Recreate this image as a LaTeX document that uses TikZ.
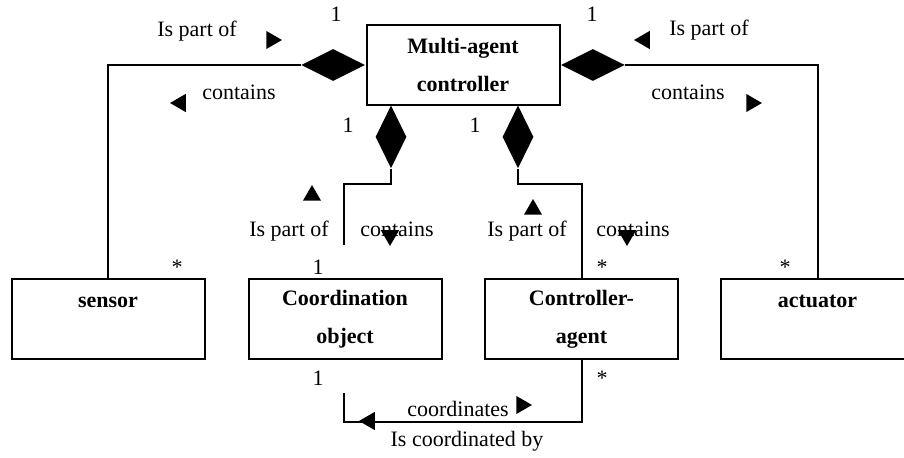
\documentclass[tikz,border=0pt]{standalone}
\usepackage{fontspec}
\setmainfont{Liberation Serif}
\usetikzlibrary{shapes.geometric}
\pgfdeclarelayer{edgelayer}
\pgfdeclarelayer{nodelayer}
\pgfsetlayers{edgelayer,nodelayer,main}
\tikzstyle{edge}=[draw=black, line width=1pt]
\tikzstyle{cls}=[rectangle, draw=black, line width=1pt, minimum width=96.5pt, minimum height=40pt, inner sep=0pt, align=center, font=\fontsize{11}{19}\selectfont\bfseries]
\tikzstyle{cls1}=[rectangle, draw=black, line width=1pt, minimum width=96.5pt, minimum height=40pt, inner sep=0pt, text height=14.5pt, text depth=25.5pt, font=\fontsize{11}{13}\selectfont\bfseries]
\tikzstyle{hcomp}=[diamond, fill=black, inner sep=0pt, minimum width=32pt, minimum height=16pt]
\tikzstyle{vcomp}=[diamond, fill=black, inner sep=0pt, minimum width=15.5pt, minimum height=31.5pt]
\tikzstyle{lbl}=[anchor=base, inner sep=0pt, font=\fontsize{11}{13}\selectfont]
\tikzstyle{tri}=[regular polygon, regular polygon sides=3, fill=black, inner sep=0pt, minimum size=10.5pt]

\begin{document}
\begin{tikzpicture}[x=0.5pt, y=-0.5pt]
			\useasboundingbox (0, 0) rectangle (904, 458);
			\begin{pgfonlayer}{nodelayer}
				\node [style=cls] (mac) at (463, 65) {Multi-agent\\controller};
				\node [style=cls1] (sensor) at (108, 319) {sensor};
				\node [style=cls] (coord) at (345, 319) {Coordination\\object};
				\node [style=cls] (ctrl) at (581.5, 319) {Controller-\\agent};
				\node [style=cls1] (act) at (817.5, 319) {actuator};
				\node [style=hcomp, anchor=east] (dsen) at (mac.west) {};
				\node [style=hcomp, anchor=west] (dact) at (mac.east) {};
				\node [style=vcomp, anchor=north] (dcoo) at (391, 105) {};
				\node [style=vcomp, anchor=north] (dctl) at (518, 105) {};
				\coordinate (cend) at (344, 245);
				\coordinate (bend) at (344, 393);
				% role names and multiplicities
				\node [style=lbl] (ipo1) at (197, 37) {Is part of};
				\node [style=lbl] (con1) at (239, 100) {contains};
				\node [style=lbl] (ipo2) at (709, 36) {Is part of};
				\node [style=lbl] (con2) at (688, 100) {contains};
				\node [style=lbl] (ipo3) at (289, 237) {Is part of};
				\node [style=lbl] (con3) at (397, 237) {contains};
				\node [style=lbl] (ipo4) at (527, 237) {Is part of};
				\node [style=lbl] (con4) at (633, 237) {contains};
				\node [style=lbl] (crd) at (458, 417) {coordinates};
				\node [style=lbl] (icb) at (467, 447) {Is coordinated by};
				\node [style=lbl] (m1) at (336, 22) {1};
				\node [style=lbl] (m2) at (592, 22) {1};
				\node [style=lbl] (m3) at (348, 133) {1};
				\node [style=lbl] (m4) at (475, 133) {1};
				\node [style=lbl] (m5) at (318, 275) {1};
				\node [style=lbl] (m6) at (318, 386) {1};
				\node [style=lbl] (m7) at (177, 275) {*};
				\node [style=lbl] (m8) at (602, 275) {*};
				\node [style=lbl] (m9) at (785, 275) {*};
				\node [style=lbl] (m10) at (602, 386) {*};
				% reading direction markers
				\node [style=tri, rotate=-90] (t1) at (271.5, 40) {};
				\node [style=tri, rotate=90] (t2) at (180.5, 103) {};
				\node [style=tri, rotate=90] (t3) at (644.5, 40) {};
				\node [style=tri, rotate=-90] (t4) at (751.5, 103) {};
				\node [style=tri] (t5) at (312, 195.5) {};
				\node [style=tri, rotate=180] (t6) at (390, 235.5) {};
				\node [style=tri] (t7) at (533, 209.5) {};
				\node [style=tri, rotate=180] (t8) at (627, 235.5) {};
				\node [style=tri, rotate=90] (t9) at (369.5, 421) {};
				\node [style=tri, rotate=-90] (t10) at (521.5, 405) {};
			\end{pgfonlayer}
			\begin{pgfonlayer}{edgelayer}
				\draw [style=edge] (dsen.west) -| (sensor.north);
				\draw [style=edge] (dact.east) -| (act.north);
				\draw [style=edge] (dcoo.south) -- ++(0, 15) -| (cend);
				\draw [style=edge] (dctl.south) -- ++(0, 15) -| (ctrl.north);
				\draw [style=edge] (ctrl.south) -- ++(0, 62) -| (bend);
			\end{pgfonlayer}
		\end{tikzpicture}
\end{document}
